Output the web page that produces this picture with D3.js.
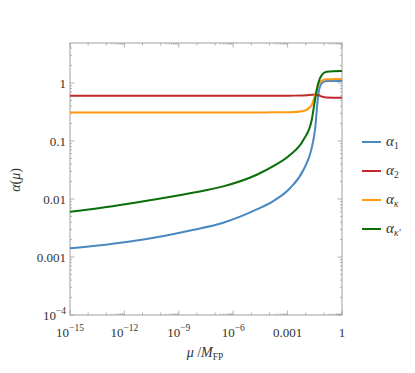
<!DOCTYPE html>
<html>
<head>
<meta charset="utf-8">
<script src="https://cdn.jsdelivr.net/npm/d3@7"></script>
<style>
  body { margin: 0; background: #fff; }
</style>
</head>
<body>
<div id="chart"></div>
<script>
// exponents of mu / M_FP (shared sample grid)
var muExp = [-15, -13.44, -11.6, -9.76, -8.24, -6.55, -4.7, -3.79, -2.87, -2.13, -1.67, -1.49, -1.31, -1.12, -0.84, 0];

var alpha1  = [0.00141, 0.00158, 0.00187, 0.00233, 0.00292, 0.0039, 0.0066, 0.0092, 0.0153, 0.0316, 0.0757, 0.155, 0.62, 0.99, 1.08, 1.08];
var alpha2  = [0.60, 0.60, 0.60, 0.60, 0.60, 0.60, 0.60, 0.602, 0.605, 0.61, 0.625, 0.635, 0.62, 0.585, 0.56, 0.555];
var alphaK  = [0.31, 0.31, 0.31, 0.31, 0.31, 0.31, 0.311, 0.312, 0.314, 0.33, 0.42, 0.62, 0.92, 1.10, 1.16, 1.17];
var alphaKp = [0.00604, 0.00692, 0.00843, 0.0105, 0.0128, 0.0165, 0.0262, 0.0368, 0.0574, 0.104, 0.23, 0.509, 0.99, 1.37, 1.57, 1.61];

var seriesNames = ["1", "2", "κ", "κ'"];
var seriesColors = ["#4a88c0", "#c0282d", "#ff9a10", "#0a6e0a"];
var seriesData = [alpha1, alpha2, alphaK, alphaKp];

var xMajorExp = [-15, -12, -9, -6, -3, 0];
var xMajorLabels = [["10", "−15"], ["10", "−12"], ["10", "−9"], ["10", "−6"], ["0.001", ""], ["1", ""]];
var yMajor = [1, 0.1, 0.01, 0.001, 1e-4];
var yMajorLabels = [["1", ""], ["0.1", ""], ["0.01", ""], ["0.001", ""], ["10", "−4"]];

var W = 415, H = 373;
var m = {left: 70, right: 342, top: 43, bottom: 315};
var FONT = "'Liberation Serif', 'Times New Roman', serif";

var svg = d3.select("#chart").append("svg")
  .attr("width", W).attr("height", H)
  .attr("font-family", FONT);

var x = d3.scaleLog().domain([1e-15, 1]).range([m.left, m.right]);
var y = d3.scaleLog().domain([1e-4, Math.pow(10, 40 / 58)]).range([m.bottom, m.top]);

// frame
svg.append("rect")
  .attr("x", m.left).attr("y", m.top)
  .attr("width", m.right - m.left).attr("height", m.bottom - m.top)
  .attr("fill", "none").attr("stroke", "#a0a0a0").attr("stroke-width", 1);

var tickG = svg.append("g").attr("stroke", "#a0a0a0").attr("stroke-width", 0.8);

// x ticks, bottom and top
function xTick(v, len) {
  var px = x(v);
  tickG.append("line").attr("x1", px).attr("x2", px).attr("y1", m.bottom).attr("y2", m.bottom - len);
  tickG.append("line").attr("x1", px).attr("x2", px).attr("y1", m.top).attr("y2", m.top + len);
}
xMajorExp.forEach(function (e) {
  xTick(Math.pow(10, e), 4.5);
  if (e > -15) {
    for (var k = 2; k <= 9; k++) xTick(k * Math.pow(10, e - 1), 1.5);
  }
});
for (var e = -14; e < 0; e++) {
  if (xMajorExp.indexOf(e) < 0) xTick(Math.pow(10, e), 2.5);
}

// y ticks, left and right
function yTick(v, len) {
  var py = y(v);
  tickG.append("line").attr("y1", py).attr("y2", py).attr("x1", m.left).attr("x2", m.left + len);
  tickG.append("line").attr("y1", py).attr("y2", py).attr("x1", m.right).attr("x2", m.right - len);
}
for (var d = -4; d <= 0; d++) {
  yTick(Math.pow(10, d), 4.5);
  for (var k = 2; k <= 9; k++) {
    var v = k * Math.pow(10, d);
    if (v <= y.domain()[1]) yTick(v, 2);
  }
}

// tick labels
xMajorExp.forEach(function (e, i) {
  var t = svg.append("text")
    .attr("x", x(Math.pow(10, e))).attr("y", 337)
    .attr("text-anchor", "middle").attr("font-size", 13).attr("fill", "#333");
  t.append("tspan").text(xMajorLabels[i][0]);
  if (xMajorLabels[i][1]) t.append("tspan").attr("dy", -6).attr("font-size", 9.5).text(xMajorLabels[i][1]);
});
yMajor.forEach(function (v, i) {
  var t = svg.append("text")
    .attr("x", 66).attr("y", y(v) + 4.5)
    .attr("text-anchor", "end").attr("font-size", 13).attr("fill", "#333");
  t.append("tspan").text(yMajorLabels[i][0]);
  if (yMajorLabels[i][1]) t.append("tspan").attr("dy", -6).attr("font-size", 9.5).text(yMajorLabels[i][1]);
});

// axis titles
var xt = svg.append("text").attr("x", 205).attr("y", 357)
  .attr("text-anchor", "middle").attr("font-size", 14).attr("fill", "#333");
xt.append("tspan").attr("font-style", "italic").text("μ");
xt.append("tspan").text(" /");
xt.append("tspan").attr("font-style", "italic").text("M");
xt.append("tspan").attr("dy", 3).attr("font-size", 9.5).text("FP");

var yt = svg.append("text")
  .attr("transform", "translate(20,180) rotate(-90)")
  .attr("text-anchor", "middle").attr("font-size", 14).attr("fill", "#333");
yt.append("tspan").attr("font-style", "italic").text("α");
yt.append("tspan").text("(");
yt.append("tspan").attr("font-style", "italic").text("μ");
yt.append("tspan").text(")");

// curves
var line = d3.line()
  .x(function (d) { return x(Math.pow(10, d[0])); })
  .y(function (d) { return y(d[1]); })
  .curve(d3.curveMonotoneX);

var plot = svg.append("g");
seriesData.forEach(function (vals, i) {
  plot.append("path")
    .datum(muExp.map(function (e, j) { return [e, vals[j]]; }))
    .attr("d", line)
    .attr("fill", "none")
    .attr("stroke", seriesColors[i])
    .attr("stroke-width", 2);
});

// legend
var legend = svg.append("g");
seriesNames.forEach(function (n, i) {
  var ly = 142 + i * 29;
  legend.append("line")
    .attr("x1", 362).attr("x2", 381).attr("y1", ly).attr("y2", ly)
    .attr("stroke", seriesColors[i]).attr("stroke-width", 2);
  var t = legend.append("text").attr("x", 386).attr("y", ly + 4)
    .attr("font-size", 15).attr("fill", "#333");
  t.append("tspan").attr("font-style", "italic").text("α");
  t.append("tspan").attr("dy", 3).attr("font-size", 9.5)
    .attr("font-style", i > 1 ? "italic" : "normal").text(n);
});
</script>
</body>
</html>
